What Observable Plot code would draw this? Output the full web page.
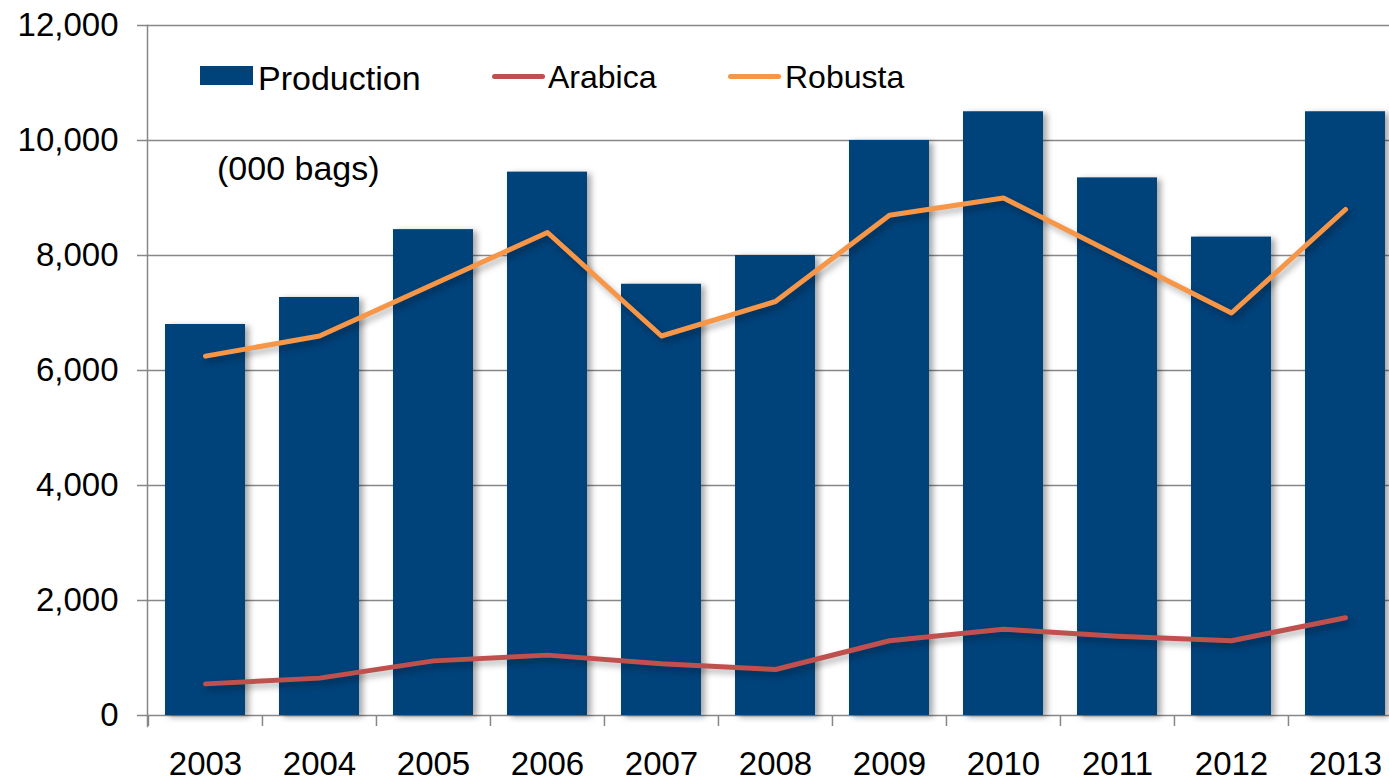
<!DOCTYPE html>
<html>
<head>
<meta charset="utf-8">
<script src="https://cdn.jsdelivr.net/npm/d3@7"></script>
<script src="https://cdn.jsdelivr.net/npm/@observablehq/plot@0.6"></script>
<style>
  html, body { margin: 0; padding: 0; background: #fff; overflow: hidden; width: 1389px; height: 782px; }
  #wrap { position: relative; width: 1389px; height: 782px; overflow: hidden; font-family: "Liberation Sans", Arial, sans-serif; color: #000; }
  #chart svg { display: block; max-width: none !important; width: 1402px !important; height: 782px !important; }
  #chart g[aria-label="bar"] { filter: drop-shadow(4px 2px 3px rgba(0,0,0,0.35)); }
  #chart g[aria-label="line"] { filter: drop-shadow(3px 4px 3px rgba(0,0,0,0.3)); }
  .lg { position: absolute; font-size: 32px; line-height: 32px; white-space: nowrap; }
  .big { font-size: 34px; line-height: 34px; }
  .sw { position: absolute; }
</style>
</head>
<body>
<div id="wrap">
  <div id="chart"></div>
  <div class="sw" style="left:200px; top:66px; width:53px; height:19px; background:#00427A;"></div>
  <div class="lg big" style="left:258px; top:61px;">Production</div>
  <div class="sw" style="left:492px; top:74px; width:53px; height:5px; border-radius:3px; background:#C0504D;"></div>
  <div class="lg" style="left:548px; top:61px;">Arabica</div>
  <div class="sw" style="left:728px; top:74px; width:53px; height:5px; border-radius:3px; background:#F79646;"></div>
  <div class="lg" style="left:785px; top:61px;">Robusta</div>
  <div class="lg big" style="left:217px; top:151px;">(000 bags)</div>
</div>
<script>
const years = ["2003","2004","2005","2006","2007","2008","2009","2010","2011","2012","2013"];
const production = [6800, 7270, 8450, 9450, 7500, 8000, 10000, 10500, 9350, 8320, 10500];
const arabica = [550, 650, 950, 1050, 900, 800, 1300, 1500, 1380, 1300, 1700];
const robusta = [6250, 6600, 7500, 8400, 6600, 7200, 8700, 9000, 8000, 7000, 8800];
const yTicks = [0, 2000, 4000, 6000, 8000, 10000, 12000];

const data = years.map((y, i) => ({year: y, production: production[i], arabica: arabica[i], robusta: robusta[i]}));

const W = 1402, ML = 147, MR = 0;
const step = (W - ML - MR) / years.length;
const grid = "#878787";

const chart = Plot.plot({
  width: W,
  height: 782,
  marginTop: 25,
  marginBottom: 67,
  marginLeft: ML,
  marginRight: MR,
  style: {fontFamily: "'Liberation Sans', Arial, sans-serif", fontSize: "33px", color: "#000", background: "#fff", overflow: "visible", maxWidth: "none"},
  x: {domain: years, paddingInner: 0.3, paddingOuter: 0.15, label: null},
  y: {domain: [0, 12000], label: null},
  marks: [
    Plot.ruleY(yTicks, {stroke: grid, strokeWidth: 1.5, insetLeft: -10}),
    Plot.ruleX(years, {x: d => d, y1: 0, y2: 0, insetBottom: -11, dx: -step / 2, stroke: grid, strokeWidth: 1.5}),
    Plot.frame({anchor: "left", insetBottom: -11, stroke: grid, strokeWidth: 1.5}),
    Plot.barY(data, {x: "year", y: "production", fill: "#00427A"}),
    Plot.line(data, {x: "year", y: "arabica", stroke: "#C0504D", strokeWidth: 5, strokeLinecap: "round", strokeLinejoin: "round"}),
    Plot.line(data, {x: "year", y: "robusta", stroke: "#F79646", strokeWidth: 5, strokeLinecap: "round", strokeLinejoin: "round"}),
    Plot.axisY({ticks: yTicks, tickSize: 0, tickPadding: 29, tickFormat: d3.format(","), label: null}),
    Plot.axisX({tickSize: 0, tickPadding: 36, label: null})
  ]
});
document.getElementById("chart").appendChild(chart);
</script>
</body>
</html>
